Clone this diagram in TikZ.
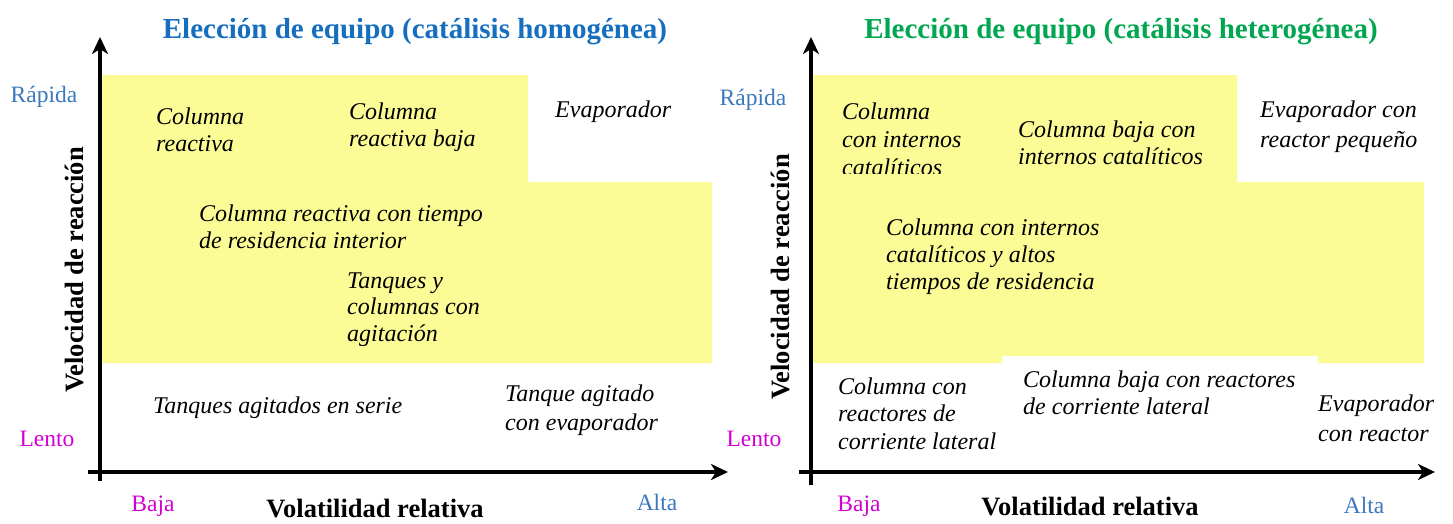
\documentclass[tikz,border=0pt]{standalone}
\usepackage{fontspec}
\setmainfont{Liberation Serif}
\usetikzlibrary{arrows.meta}
\definecolor{hlyellow}{RGB}{252,252,150}
\definecolor{titleblue}{RGB}{22,110,190}
\definecolor{titlegreen}{RGB}{0,166,80}
\definecolor{lblblue}{RGB}{60,120,190}
\definecolor{lblmag}{RGB}{210,0,210}
\begin{document}
\begin{tikzpicture}[x=1pt,y=-1pt,
  item/.style={anchor=base west, inner sep=0pt, align=left, font=\fontsize{24}{27.5}\selectfont\itshape},
  title/.style={inner sep=0pt, font=\fontsize{29}{32}\selectfont\bfseries},
  axlabel/.style={inner sep=0pt, font=\fontsize{26.5}{30}\selectfont\bfseries},
  tick/.style={inner sep=0pt, font=\fontsize{23.5}{26}\selectfont},
  axis/.style={line width=3.5pt, -{Stealth[length=17pt,width=16pt,inset=5pt]}},
  zone/.style={fill=hlyellow, draw=none}]
\useasboundingbox (0,0) rectangle (1453,523);
\fill[white] (0,0) rectangle (1453,523);

% ---------- left panel ----------
\fill[zone] (101,75) -- (528,75) -- (528,182) -- (712,182) -- (712,363) -- (101,363) -- cycle;
\coordinate (LYs) at (100,481);
\coordinate (LYe) at (100,37);
\coordinate (LXs) at (88,472);
\coordinate (LXe) at (728,472);
\draw[axis] (LYs) -- (LYe);
\draw[axis] (LXs) -- (LXe);

\node[title, text=titleblue] (t1) at (415,32) {Elección de equipo (catálisis homogénea)};
\node[axlabel, rotate=90] (v1) at (74,270) {Velocidad de reacción};
\node[axlabel] (h1) at (375,508) {Volatilidad relativa};
\node[tick, text=lblblue] (r1) at (44,97) {Rápida};
\node[tick, text=lblmag] (l1) at (47,439) {Lento};
\node[tick, text=lblmag] (b1) at (153,506) {Baja};
\node[tick, text=lblblue] (a1) at (657,502) {Alta};

\node[item] (n11) at (156,151.5) {Columna\\reactiva};
\node[item] (n12) at (349,146.5) {Columna\\reactiva baja};
\node[item] (n13) at (555,117) {Evaporador};
\node[item] (n14) at (199,248.5) {Columna reactiva con tiempo\\de residencia interior};
\node[item, font=\fontsize{24}{26.5}\selectfont\itshape] (n15) at (347,341) {Tanques y\\columnas con\\agitación};
\node[item] (n16) at (153,413) {Tanques agitados en serie};
\node[item, font=\fontsize{24}{29}\selectfont\itshape] (n17) at (505,430) {Tanque agitado\\con evaporador};

% ---------- right panel ----------
\fill[zone] (812,75) -- (1237,75) -- (1237,182) -- (1424,182) -- (1424,363) -- (812,363) -- cycle;
\fill[white] (1002,356) rectangle (1318,380);
\coordinate (RYs) at (811,485);
\coordinate (RYe) at (811,37);
\coordinate (RXs) at (799,472);
\coordinate (RXe) at (1435,472);
\draw[axis] (RYs) -- (RYe);
\draw[axis] (RXs) -- (RXe);

\node[title, text=titlegreen] (t2) at (1121,32) {Elección de equipo (catálisis heterogénea)};
\node[axlabel, rotate=90] (v2) at (780,277) {Velocidad de reacción};
\node[axlabel] (h2) at (1090,506) {Volatilidad relativa};
\node[tick, text=lblblue] (r2) at (753,100) {Rápida};
\node[tick, text=lblmag] (l2) at (754,439) {Lento};
\node[tick, text=lblmag] (b2) at (859,506) {Baja};
\node[tick, text=lblblue] (a2) at (1364,505) {Alta};

\begin{scope}
\clip (812,75) rectangle (1000,173);
\node[item, font=\fontsize{24}{28}\selectfont\itshape] (n21) at (842,175) {Columna\\con internos\\catalíticos};
\end{scope}
\node[item] (n22) at (1018,164.5) {Columna baja con\\internos catalíticos};
\node[item, font=\fontsize{24}{30}\selectfont\itshape] (n23) at (1260,147) {Evaporador con\\reactor pequeño};
\node[item, font=\fontsize{24}{27}\selectfont\itshape] (n24) at (886,289) {Columna con internos\\catalíticos y altos\\tiempos de residencia};
\node[item] (n25) at (838,449) {Columna con\\reactores de\\corriente lateral};
\node[item] (n26) at (1023,414.5) {Columna baja con reactores\\de corriente lateral};
\node[item, font=\fontsize{24}{30}\selectfont\itshape] (n27) at (1318,441) {Evaporador\\con reactor};
\end{tikzpicture}
\end{document}
